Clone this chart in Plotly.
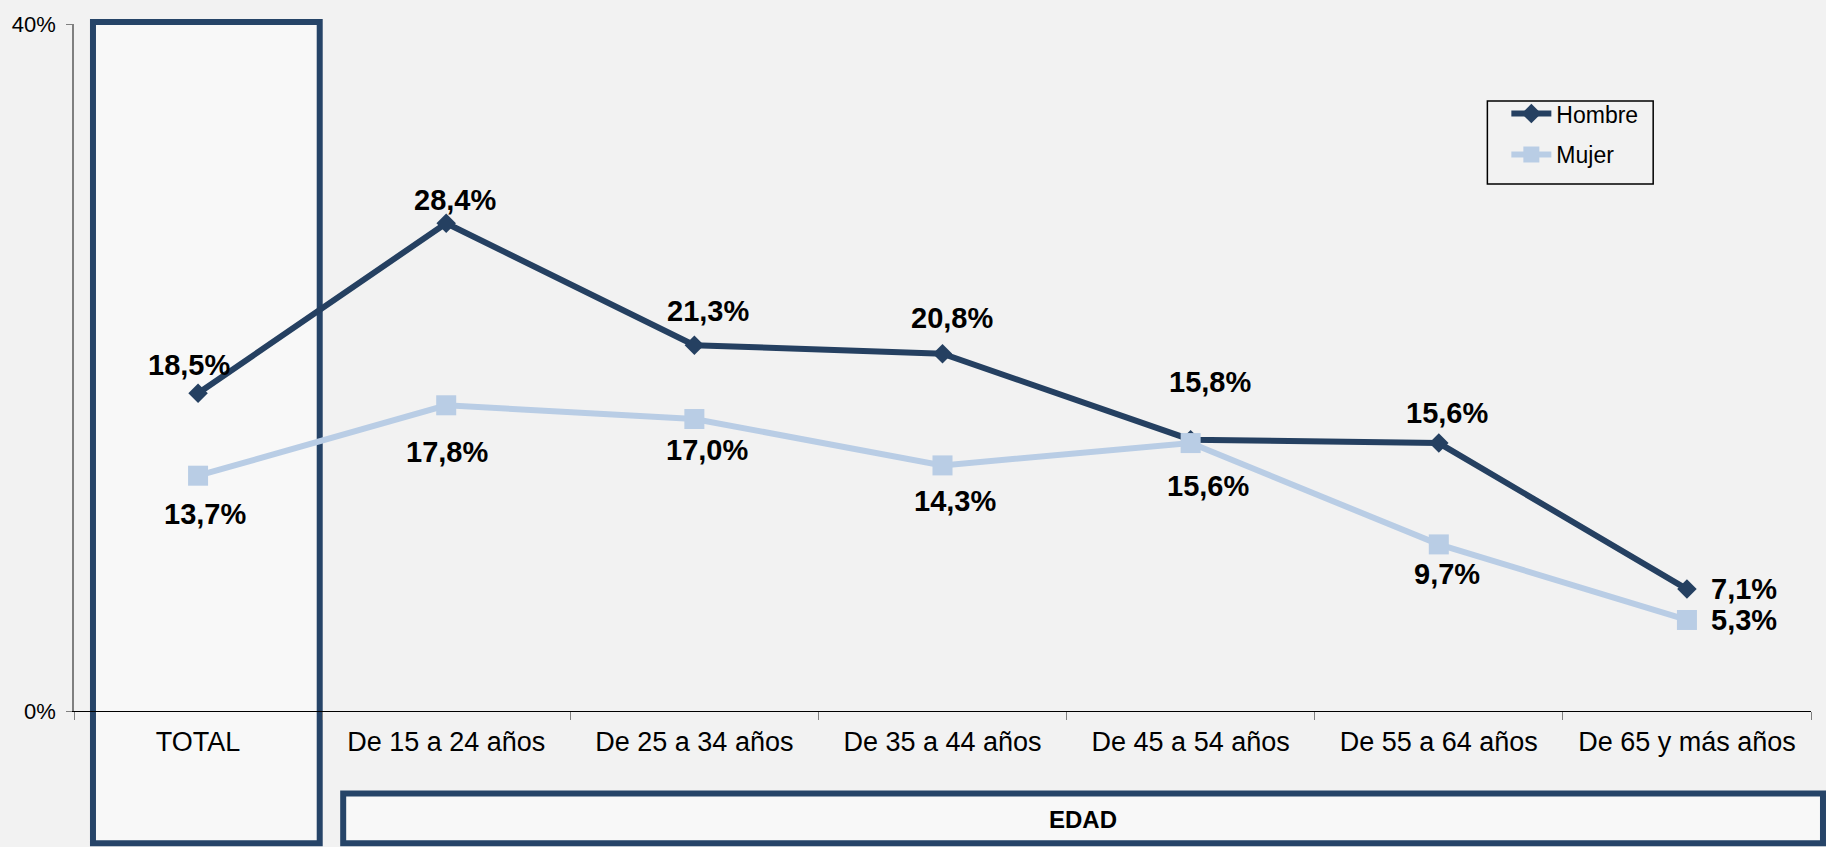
import plotly.graph_objects as go

categories = ["TOTAL", "De 15 a 24 años", "De 25 a 34 años", "De 35 a 44 años",
              "De 45 a 54 años", "De 55 a 64 años", "De 65 y más años"]
hombre = [18.5, 28.4, 21.3, 20.8, 15.8, 15.6, 7.1]
mujer = [13.7, 17.8, 17.0, 14.3, 15.6, 9.7, 5.3]
hombre_labels = ["18,5%", "28,4%", "21,3%", "20,8%", "15,8%", "15,6%", "7,1%"]
mujer_labels = ["13,7%", "17,8%", "17,0%", "14,3%", "15,6%", "9,7%", "5,3%"]
y_ticks = [0, 40]
y_ticktext = ["0%", "40%"]

# label offsets in pixels (style only)
h_off = [(-9, 28), (9, 23), (14, 34), (9, 36), (19, 58), (8, 30), (57, 0)]
m_off = [(7, -38), (1, -47), (13, -31), (12, -36), (17, -43), (8, -30), (57, 0)]

DARK = "#254061"
LIGHT = "#B9CDE5"
BOX = "#264468"
FONT = "Liberation Sans, Arial, sans-serif"

fig = go.Figure()
fig.add_trace(go.Scatter(
    x=categories, y=hombre, name="Hombre", mode="lines+markers",
    line=dict(color=DARK, width=6),
    marker=dict(symbol="diamond", size=15, color=DARK),
    legendgroup="h",
))
fig.add_trace(go.Scatter(
    x=categories, y=mujer, name="Mujer", mode="lines+markers",
    line=dict(color=LIGHT, width=6),
    marker=dict(symbol="square", size=20, color=LIGHT),
    legendgroup="m",
))

annotations = []
for c, v, t, (dx, dy) in zip(categories, hombre, hombre_labels, h_off):
    annotations.append(dict(x=c, y=v, text=t, showarrow=False, xshift=dx, yshift=dy,
                            font=dict(family=FONT, size=29, color="black", weight="bold")))
for c, v, t, (dx, dy) in zip(categories, mujer, mujer_labels, m_off):
    annotations.append(dict(x=c, y=v, text=t, showarrow=False, xshift=dx, yshift=dy,
                            font=dict(family=FONT, size=29, color="black", weight="bold")))

L, R, T, B = 72, 15, 15, 136
W, H = 1826, 847
pw, ph = W - L - R, H - T - B

def px(x):
    return (x - L) / pw

def py(y):
    return (H - B - y) / ph

annotations.append(dict(xref="paper", yref="paper", x=px(1082), y=py(821), text="EDAD",
                        xanchor="center", yanchor="middle", showarrow=False,
                        font=dict(family=FONT, size=24, color="black", weight="bold")))

shapes = [
    dict(type="rect", xref="paper", yref="paper", x0=px(91), x1=px(318), y0=py(13), y1=py(845),
         line=dict(color=BOX, width=6), fillcolor="#F8F8F8", layer="below"),
    dict(type="rect", xref="paper", yref="paper", x0=px(341.5), x1=px(1823), y0=py(794.5), y1=py(845),
         line=dict(color=BOX, width=6), fillcolor="#F8F8F8", layer="below"),
    dict(type="rect", xref="paper", yref="paper", x0=px(1487), x1=px(1653), y0=py(93), y1=py(177),
         line=dict(color="black", width=1.5), fillcolor="rgba(0,0,0,0)", layer="below"),
]

fig.update_layout(
    width=W, height=H,
    margin=dict(l=L, r=R, t=T, b=B),
    paper_bgcolor="#F2F2F2", plot_bgcolor="rgba(0,0,0,0)",
    font=dict(family=FONT, color="black"),
    showlegend=True,
    legend=dict(x=px(1506), y=py(84), xanchor="left", yanchor="top",
                borderwidth=0, bgcolor="rgba(0,0,0,0)",
                font=dict(size=23, family=FONT, color="black"),
                tracegroupgap=8, itemwidth=40),
    annotations=annotations,
    shapes=shapes,
    xaxis=dict(type="category", range=[-0.5, 6.5], tickson="boundaries",
               ticks="outside", ticklen=8, tickcolor="#808080",
               showline=True, linecolor="black", linewidth=1,
               showgrid=False, zeroline=False, ticklabelstandoff=7,
               tickfont=dict(size=27, family=FONT, color="black")),
    yaxis=dict(range=[0, 40], tickvals=y_ticks, ticktext=y_ticktext,
               ticks="outside", ticklen=6, tickcolor="#808080",
               showline=True, linecolor="#808080", linewidth=1.5,
               showgrid=False, zeroline=False, ticklabelstandoff=6,
               tickfont=dict(size=22, family=FONT, color="black")),
)

fig.write_html("out.html", config={"displayModeBar": False},
               post_script="document.body.style.margin='0';document.body.style.overflow='hidden';")
